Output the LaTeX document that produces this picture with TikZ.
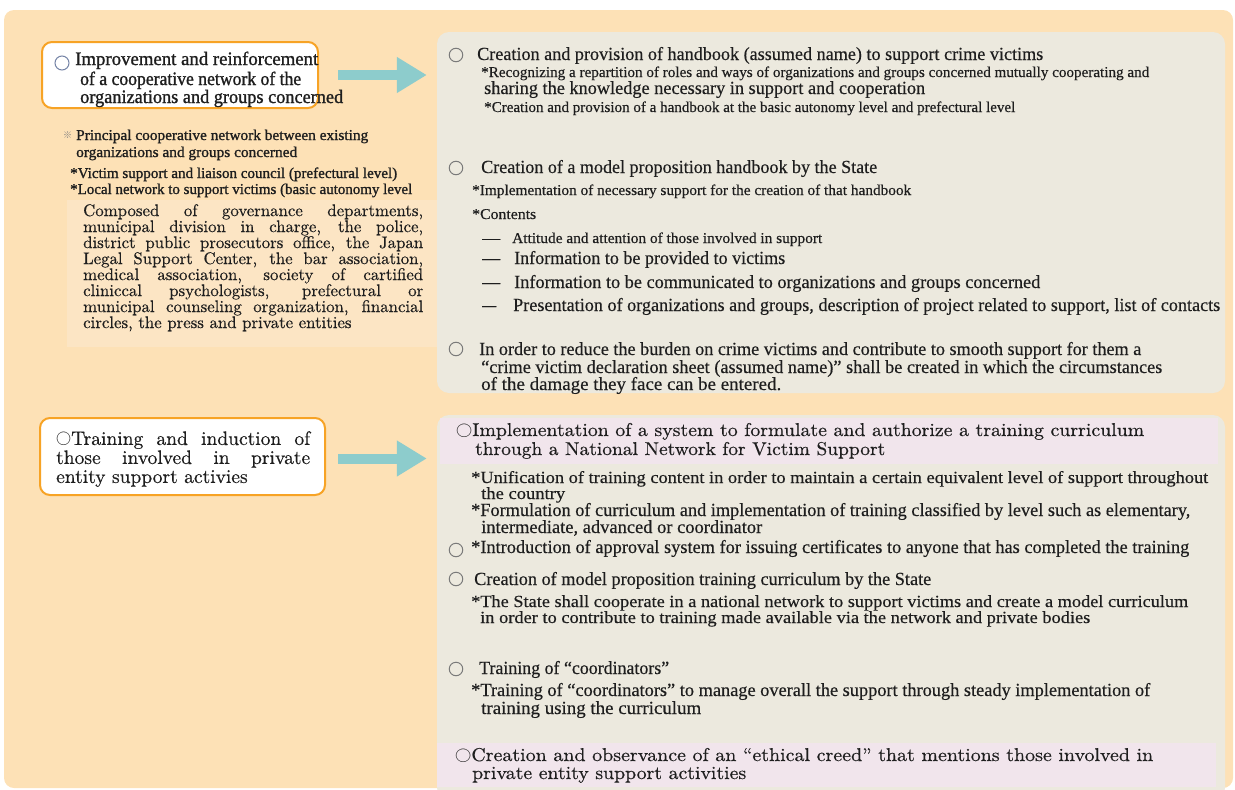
\documentclass[tikz,border=0pt]{standalone}
\usepackage{fontspec}
\usepackage{graphicx}
\usetikzlibrary{arrows.meta}

\newfontfamily\cond[FakeBold=0.35]{Liberation Serif}
\newfontfamily\condb[FakeBold=1.2]{Liberation Serif}
\newfontfamily\lmr[Extension=.otf,FakeBold=0.45]{lmroman10-regular}
\newfontfamily\cjk{Noto Sans CJK JP}
% stretch or squeeze one line horizontally to a given width (in pt)
\newcommand\fitto[2]{\resizebox{#1pt}{\height}{#2}}

\definecolor{bgorange}{HTML}{FDE1B6}
\definecolor{paleorange}{HTML}{FCE5C4}
\definecolor{panelbeige}{HTML}{ECE9DE}
\definecolor{panelpink}{HTML}{F1E5EC}
\definecolor{arrowteal}{HTML}{8DCCCC}
\definecolor{boxorange}{HTML}{F7A325}
\definecolor{ink}{HTML}{1E1E1E}
\definecolor{bulletgray}{HTML}{7A7A7A}
\definecolor{bulletblue}{HTML}{7584A6}

\tikzset{
  ln/.style={anchor=base west, inner sep=0pt, text=ink},
  hd/.style={ln, font=\cond\fontsize{18.5}{19}\selectfont},
  hdt/.style={ln, font=\cond\fontsize{17}{17}\selectfont},
  sm/.style={ln, font=\cond\fontsize{15}{16}\selectfont},
  lb/.style={ln, font=\condb\fontsize{15}{16}\selectfont},
  big/.style={ln, font=\condb\fontsize{19}{20}\selectfont},
  lm/.style={ln, font=\lmr\fontsize{18.5}{19}\selectfont},
  bul/.style={circle, draw=bulletgray, line width=1pt, minimum size=13.5pt, inner sep=0pt},
  whitebox/.style={draw=boxorange, line width=2pt, fill=white, rounded corners=10pt, inner sep=0pt},
  panel/.style={fill=panelbeige, rounded corners=12pt, inner sep=0pt},
  fatarrow/.style={draw=arrowteal, line width=10pt, -{Triangle[length=30pt,width=34pt]}}
}

\begin{document}
\begin{tikzpicture}[x=1pt,y=-1pt]
\useasboundingbox (0,0) rectangle (1235,790);

% background sheet
\fill[bgorange, rounded corners=10pt] (4,10) rectangle (1233,788);

% right-hand panels
\node[panel, minimum width=788pt, minimum height=361pt] (panel1) at (831,212.5) {};
\node[panel, minimum width=788pt, minimum height=385pt] (panel2) at (831,607.5) {};
\fill[panelpink] (440,418) rectangle (1218,464);
\fill[panelpink] (437,743) rectangle (1216,787);

% left-hand boxes
\node[whitebox, minimum width=276pt, minimum height=66pt] (box1) at (180,75) {};
\node[whitebox, minimum width=285pt, minimum height=77pt] (box2) at (182.5,456.5) {};
\fill[paleorange] (67,200) rectangle (437,347);

% arrows
\draw[fatarrow] ([xshift=19pt]box1.east) -- ([xshift=-10pt]box1.east -| panel1.west);
\draw[fatarrow] ([xshift=12pt,yshift=-2pt]box2.east) -- ([xshift=-10pt,yshift=-2pt]box2.east -| panel2.west);

% ---- left column ----
\node[bul, draw=bulletblue, minimum size=14pt] (bb1) at (62,63) {};
\node[big] (b1a) at (75,65) {\fitto{243}{Improvement and reinforcement}};
\node[big] (b1b) at (80,85) {\fitto{221}{of a cooperative network of the}};
\node[big] (b1c) at (80,103) {\fitto{263}{organizations and groups concerned}};

\node[ln, text=gray, font=\cjk\fontsize{9}{9}\selectfont] (ref1) at (63,138) {※};
\node[lb] (n1a) at (76,140) {\fitto{292}{Principal cooperative network between existing}};
\node[lb] (n1b) at (76,157) {\fitto{221}{organizations and groups concerned}};
\node[lb] (n2a) at (70,178) {\fitto{327}{*Victim support and liaison council (prefectural level)}};
\node[lb] (n2b) at (70,194) {\fitto{342}{*Local network to support victims (basic autonomy level}};

\node[anchor=north west, inner sep=0pt, text width=340pt, align=justify, text=ink,
      font=\lmr\fontsize{16.8}{16}\selectfont] (comp) at (83,204)
  {\lineskiplimit=-20pt Composed of governance departments,\linebreak
   municipal division in charge, the police,\linebreak
   district public prosecutors office, the Japan\linebreak
   Legal Support Center, the bar association,\linebreak
   medical association, society of cartified\linebreak
   clinic\-cal psychologists, prefectural or\linebreak
   municipal counseling organization, financial\linebreak
   circles, the press and private entities};

\node[anchor=north west, inner sep=0pt, text width=254pt, align=justify, text=ink,
      font=\lmr\fontsize{19.5}{19}\selectfont] (tr) at (56,431)
  {{\cjk\fontsize{15}{15}\selectfont ○}Training and induction of\linebreak
   those involved in private\linebreak
   entity support activies};

% ---- upper panel ----
\node[bul] (c1) at (456,55) {};
\node[hd] (h1) at (477,60) {\fitto{566}{Creation and provision of handbook (assumed name) to support crime victims}};
\node[sm] (h1a) at (481,77) {\fitto{668}{*Recognizing a repartition of roles and ways of organizations and groups concerned mutually cooperating and}};
\node[hd] (h1b) at (484,94) {\fitto{441}{sharing the knowledge necessary in support and cooperation}};
\node[sm] (h1c) at (484,112) {\fitto{531}{*Creation and provision of a handbook at the basic autonomy level and prefectural level}};

\node[bul] (c2) at (456,168) {};
\node[hd] (h2) at (481,173) {\fitto{396}{Creation of a model proposition handbook by the State}};
\node[sm] (h2a) at (472,195) {\fitto{439}{*Implementation of necessary support for the creation of that handbook}};
\node[sm] (h2b) at (472,219) {\fitto{64}{*Contents}};
\node[sm] (d1) at (482,243) {\fitto{18}{—}};
\node[sm] (h2c) at (512,243) {\fitto{310}{Attitude and attention of those involved in support}};
\node[hd] (d2) at (482,264) {\fitto{18}{—}};
\node[hd] (h2d) at (514,264) {\fitto{271}{Information to be provided to victims}};
\node[hd] (d3) at (482,288) {\fitto{18}{—}};
\node[hd] (h2e) at (514,288) {\fitto{526}{Information to be communicated to organizations and groups concerned}};
\node[hd] (d4) at (482,311) {\fitto{14}{—}};
\node[hd] (h2f) at (513,311) {\fitto{707}{Presentation of organizations and groups, description of project related to support, list of contacts}};

\node[bul] (c3) at (456,349) {};
\node[hd] (h3) at (479,355) {\fitto{662}{In order to reduce the burden on crime victims and contribute to smooth support for them a}};
\node[hd] (h3a) at (481,373) {\fitto{681}{“crime victim declaration sheet (assumed name)” shall be created in which the circumstances}};
\node[hd] (h3b) at (481,390) {\fitto{300}{of the damage they face can be entered.}};

% ---- lower panel ----
\node[lm] (p1) at (456,436) {\fitto{688}{{\cjk\fontsize{15}{15}\selectfont ○}Implementation of a system to formulate and authorize a training curriculum}};
\node[lm] (p1a) at (475,455) {\fitto{410}{through a National Network for Victim Support}};
\node[hdt] (p2) at (471,483) {\fitto{737}{*Unification of training content in order to maintain a certain equivalent level of support throughout}};
\node[hdt] (p2a) at (481,499) {\fitto{84}{the country}};
\node[hd] (p3) at (471,516) {\fitto{719}{*Formulation of curriculum and implementation of training classified by level such as elementary,}};
\node[hd] (p3a) at (481,533) {\fitto{281}{intermediate, advanced or coordinator}};
\node[bul] (c4) at (456,550) {};
\node[hd] (p4) at (471,553) {\fitto{718}{*Introduction of approval system for issuing certificates to anyone that has completed the training}};

\node[bul] (c5) at (456,579) {};
\node[hd] (p5) at (474,585) {\fitto{457}{Creation of model proposition training curriculum by the State}};
\node[hdt] (p5a) at (471,607) {\fitto{717}{*The State shall cooperate in a national network to support victims and create a model curriculum}};
\node[hdt] (p5b) at (480,623) {\fitto{610}{in order to contribute to training made available via the network and private bodies}};

\node[bul] (c6) at (456,669) {};
\node[hd] (p6) at (479,674) {\fitto{190}{Training of “coordinators”}};
\node[hd] (p6a) at (471,696) {\fitto{679}{*Training of “coordinators” to manage overall the support through steady implementation of}};
\node[hd] (p6b) at (481,714) {\fitto{220}{training using the curriculum}};

\node[lm] (p7) at (455,761) {\fitto{698}{{\cjk\fontsize{15}{15}\selectfont ○}Creation and observance of an “ethical creed” that mentions those involved in}};
\node[lm] (p7a) at (472,779) {\fitto{274}{private entity support activities}};
\end{tikzpicture}
\end{document}
